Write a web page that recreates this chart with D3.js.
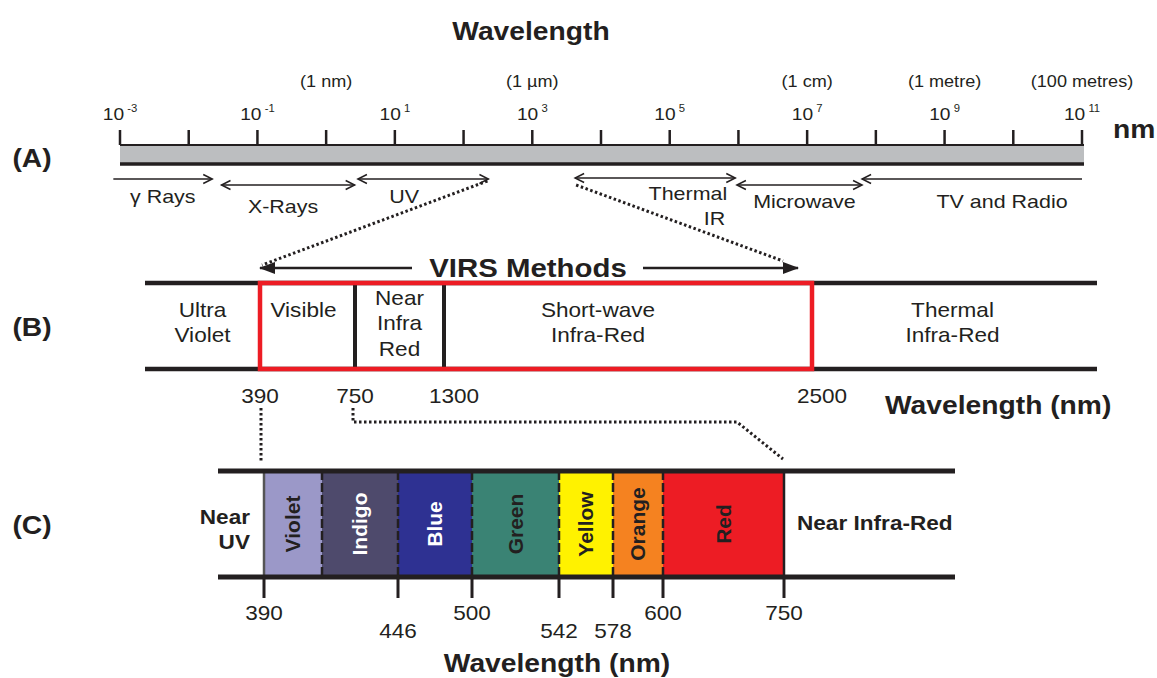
<!DOCTYPE html>
<html>
<head>
<meta charset="utf-8">
<script src="https://cdn.jsdelivr.net/npm/d3@7"></script>
<style>
  body { margin: 0; background: #fff; }
  text { font-family: "Liberation Sans", Arial, sans-serif; fill: #231f20; }
</style>
</head>
<body>
<div id="chart"></div>
<script>
// ---- panel A : electromagnetic spectrum (nm, log) ----
var tickExponents = [-3, -2, -1, 0, 1, 2, 3, 4, 5, 6, 7, 8, 9, 10, 11];
var labelExponents = [-3, -1, 1, 3, 5, 7, 9, 11];
var unitTicks = [1, 1e3, 1e7, 1e9, 1e11];
var unitLabels = ["(1 nm)", "(1 \u00b5m)", "(1 cm)", "(1 metre)", "(100 metres)"];
var bandNames = [["\u03b3 Rays"], ["X-Rays"], ["UV"], ["Thermal", "IR"], ["Microwave"], ["TV and Radio"]];
var bandFrom = [0.0008, 0.03, 2.9, 4200, 950000, 6.3e7];
var bandTo = [0.022, 2.6, 230, 900000, 6.3e7, 1e11];
var bandHeads = ["end", "both", "both", "both", "both", "start"];

// ---- panel B : VIRS regions (nm) ----
var virsBreaks = [390, 750, 1300, 2500];
var virsRegions = [["Ultra", "Violet"], ["Visible"], ["Near", "Infra", "Red"], ["Short-wave", "Infra-Red"], ["Thermal", "Infra-Red"]];

// ---- panel C : visible colours (nm) ----
var colourBreaks = [390, 414, 446, 500, 542, 578, 600, 750];
var colourNames = ["Violet", "Indigo", "Blue", "Green", "Yellow", "Orange", "Red"];
var colourFills = ["#9b98c8", "#4e4a6c", "#2e3192", "#3a8374", "#fff200", "#f58220", "#ed1c24"];
var colourText = ["#231f20", "#fff", "#fff", "#231f20", "#231f20", "#231f20", "#231f20"];
var colourTicks = [390, 446, 500, 542, 578, 600, 750];
var colourTickLow = [false, true, false, true, true, false, false];

var W = 1157, H = 678, SX = 1.13, INK = "#231f20";

var svg = d3.select("#chart").append("svg")
    .attr("width", W).attr("height", H);

var defs = svg.append("defs");
defs.append("marker").attr("id", "open")
    .attr("viewBox", "-1 -6 12 12").attr("refX", 9).attr("refY", 0)
    .attr("markerUnits", "userSpaceOnUse").attr("markerWidth", 12).attr("markerHeight", 12)
    .attr("orient", "auto-start-reverse")
  .append("path").attr("d", "M0,-4.5L9,0L0,4.5").attr("fill", "none")
    .attr("stroke", INK).attr("stroke-width", 1.5);
defs.append("marker").attr("id", "solid")
    .attr("viewBox", "0 -7 16 14").attr("refX", 15).attr("refY", 0)
    .attr("markerUnits", "userSpaceOnUse").attr("markerWidth", 16).attr("markerHeight", 14)
    .attr("orient", "auto-start-reverse")
  .append("path").attr("d", "M0,-6L16,0L0,6Z").attr("fill", INK);

// text helper: the figure's lettering is slightly wide
function label(g, x, y, lines, size, weight, anchor, lh) {
    var t = g.append("text")
        .attr("transform", "translate(" + x + "," + y + ") scale(" + SX + ",1)")
        .attr("font-size", size)
        .attr("font-weight", weight || "normal")
        .attr("text-anchor", anchor || "middle");
    [].concat(lines).forEach(function(s, i) {
        t.append("tspan").attr("x", 0).attr("dy", i ? (lh || size * 1.25) : 0).text(s);
    });
    return t;
}

// ================= A =================
var gA = svg.append("g");
var xA = d3.scaleLog().domain([1e-3, 1e11]).range([120, 1082]);

label(gA, 531, 40, "Wavelength", 25, "bold");
label(gA, 32, 167, "(A)", 25, "bold");
label(gA, 1113, 138, "nm", 25, "bold", "start");

gA.append("rect").attr("x", xA(1e-3)).attr("y", 145)
    .attr("width", xA(1e11) - xA(1e-3) + 2).attr("height", 18)
    .attr("fill", "#bcbec0");
gA.append("line").attr("x1", xA(1e-3)).attr("x2", xA(1e11) + 2)
    .attr("y1", 145).attr("y2", 145).attr("stroke", INK).attr("stroke-width", 2);
gA.append("line").attr("x1", xA(1e-3)).attr("x2", xA(1e11) + 2)
    .attr("y1", 164).attr("y2", 164).attr("stroke", INK).attr("stroke-width", 3.5);

gA.selectAll(".tk").data(tickExponents).enter().append("line")
    .attr("x1", function(e) { return xA(Math.pow(10, e)); })
    .attr("x2", function(e) { return xA(Math.pow(10, e)); })
    .attr("y1", 130).attr("y2", 145)
    .attr("stroke", INK).attr("stroke-width", 2.5);

labelExponents.forEach(function(e) {
    var t = label(gA, xA(Math.pow(10, e)), 120, "10", 17, "normal");
    t.append("tspan").attr("dy", -8).attr("font-size", 10).text(" " + (e < 0 ? "-" : "") + Math.abs(e));
});

unitTicks.forEach(function(v, i) {
    label(gA, xA(v), 87, unitLabels[i], 16);
});

var labelDx = [0, -5, -19, 0, 5, 30];
var labelY = [203, 213, 203, 200, 208, 208];
var arrowY = [179, 185, 179, 178, 185, 179];
bandNames.forEach(function(name, i) {
    var x1 = xA(bandFrom[i]), x2 = xA(bandTo[i]);
    var ln = gA.append("line").attr("x1", x1).attr("x2", x2)
        .attr("y1", arrowY[i]).attr("y2", arrowY[i])
        .attr("stroke", INK).attr("stroke-width", 1.5);
    if (bandHeads[i] !== "start") ln.attr("marker-end", "url(#open)");
    if (bandHeads[i] !== "end") ln.attr("marker-start", "url(#open)");
    if (name.length > 1) {
        label(gA, x2 - 8, labelY[i], name[0], 19, "normal", "end");
        label(gA, x2 - 10, labelY[i] + 25, name[1], 19, "normal", "end");
    } else {
        label(gA, (x1 + x2) / 2 + labelDx[i], labelY[i], name, 19);
    }
});

// ================= B =================
var gB = svg.append("g");
var xB = d3.scaleLinear().domain(virsBreaks).range([260, 355, 444, 812]);
var bLeft = 145, bRight = 1097, bTop = 283, bBot = 369;

label(gB, 32, 336, "(B)", 25, "bold");

[bTop, bBot].forEach(function(y) {
    gB.append("line").attr("x1", bLeft).attr("x2", bRight)
        .attr("y1", y).attr("y2", y).attr("stroke", INK).attr("stroke-width", 4.5);
});
gB.selectAll(".div").data(virsBreaks.slice(1, 3)).enter().append("line")
    .attr("x1", xB).attr("x2", xB).attr("y1", bTop).attr("y2", bBot)
    .attr("stroke", INK).attr("stroke-width", 4);
gB.append("rect")
    .attr("x", xB(390)).attr("y", bTop)
    .attr("width", xB(2500) - xB(390)).attr("height", bBot - bTop)
    .attr("fill", "none").attr("stroke", "#ed1c24").attr("stroke-width", 4.5);

var edges = [bLeft].concat(virsBreaks.map(xB)).concat([bRight]);
var regionDx = [0, -4, 0, -30, -2];
virsRegions.forEach(function(lines, i) {
    var y0 = lines.length === 3 ? 305 : 317;
    label(gB, (edges[i] + edges[i + 1]) / 2 + regionDx[i], y0, lines, 20, "normal", "middle", 25.5);
});

virsBreaks.forEach(function(v, i) {
    label(gB, xB(v) + (i > 1 ? 10 : 0), 403, String(v), 20);
});
label(gB, 885, 414, "Wavelength (nm)", 25, "bold", "start");

label(gB, 528, 277, "VIRS Methods", 26, "bold");
gB.append("line").attr("x1", 412).attr("x2", xB(390)).attr("y1", 268).attr("y2", 268)
    .attr("stroke", INK).attr("stroke-width", 2.5).attr("marker-end", "url(#solid)");
gB.append("line").attr("x1", 643).attr("x2", xB(2500) - 14).attr("y1", 268).attr("y2", 268)
    .attr("stroke", INK).attr("stroke-width", 2.5).attr("marker-end", "url(#solid)");

// ================= C =================
var gC = svg.append("g");
var xC = d3.scaleLinear().domain(colourBreaks)
    .range([264, 322, 398, 472, 559, 613, 663, 784]);
var cLeft = 218, cRight = 955, cTop = 471, cBot = 577;

label(gC, 32, 534, "(C)", 25, "bold");

var bands = colourNames.map(function(n, i) {
    return { name: n, from: colourBreaks[i], to: colourBreaks[i + 1], fill: colourFills[i], ink: colourText[i] };
});
gC.selectAll(".band").data(bands).enter().append("rect")
    .attr("x", function(d) { return xC(d.from); })
    .attr("width", function(d) { return xC(d.to) - xC(d.from); })
    .attr("y", cTop).attr("height", cBot - cTop)
    .attr("fill", function(d) { return d.fill; });

gC.selectAll(".cdiv").data(colourBreaks).enter().append("line")
    .attr("x1", xC).attr("x2", xC).attr("y1", cTop).attr("y2", cBot)
    .attr("stroke", function(d, i) { return i === 0 ? "#555" : INK; })
    .attr("stroke-width", 2.5)
    .attr("stroke-dasharray", function(d, i) { return (i === 0 || i === colourBreaks.length - 1) ? null : "9,3"; });

[cTop, cBot].forEach(function(y) {
    gC.append("line").attr("x1", cLeft).attr("x2", cRight)
        .attr("y1", y).attr("y2", y).attr("stroke", INK).attr("stroke-width", 5);
});

gC.selectAll(".bl").data(bands).enter().append("text")
    .attr("transform", function(d) {
        return "translate(" + ((xC(d.from) + xC(d.to)) / 2 + 7) + "," + ((cTop + cBot) / 2) + ") rotate(-90)";
    })
    .attr("text-anchor", "middle").attr("font-size", 21).attr("font-weight", "bold")
    .style("fill", function(d) { return d.ink; })
    .text(function(d) { return d.name; });

gC.selectAll(".ctk").data(colourTicks).enter().append("line")
    .attr("x1", xC).attr("x2", xC).attr("y1", cBot).attr("y2", 598)
    .attr("stroke", INK).attr("stroke-width", 3);
colourTicks.forEach(function(v, i) {
    label(gC, xC(v), colourTickLow[i] ? 638 : 620, String(v), 20);
});

label(gC, 250, 524, ["Near", "UV"], 20, "bold", "end", 25);
label(gC, 797, 530, "Near Infra-Red", 20, "bold", "start");
label(gC, 557, 672, "Wavelength (nm)", 25, "bold");

// ---- dotted leader lines ----
var lead = svg.append("g").attr("fill", "none").attr("stroke", INK)
    .attr("stroke-width", 3).attr("stroke-dasharray", "2.5,2.5");
lead.append("line").attr("x1", xA(bandTo[2]) - 1).attr("y1", 181)
    .attr("x2", xB(390) + 2).attr("y2", 265);
lead.append("line").attr("x1", xA(bandFrom[3]) + 1).attr("y1", 185)
    .attr("x2", xB(2500) - 29).attr("y2", 261);
lead.append("line").attr("x1", xB(390) + 1).attr("y1", 408)
    .attr("x2", xC(390) - 3).attr("y2", 463);
lead.append("polyline").attr("points", [
    [xB(750) - 2, 408], [xB(750) - 2, 422], [737, 422], [xC(750) - 1, 459]
].join(" "));
</script>
</body>
</html>
